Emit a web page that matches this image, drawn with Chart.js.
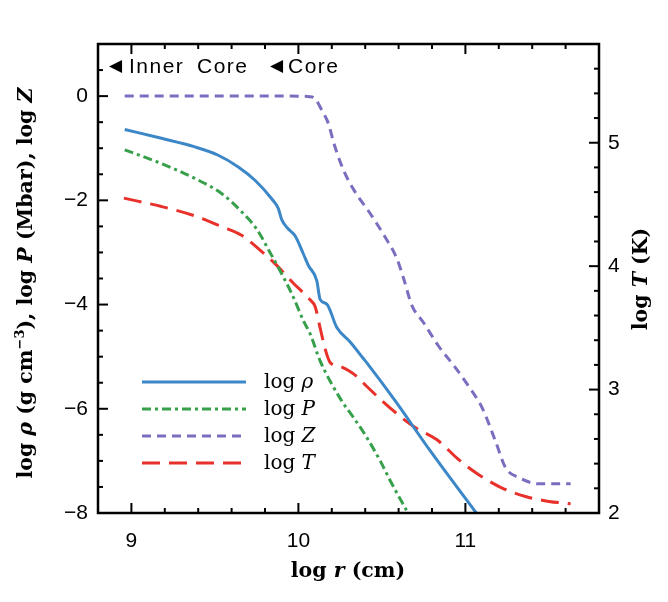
<!DOCTYPE html>
<html><head><meta charset="utf-8">
<script src="https://cdn.jsdelivr.net/npm/chart.js@4.4.1/dist/chart.umd.min.js"></script>
<style>html,body{margin:0;padding:0;background:#fff}canvas{display:block}</style>
</head><body>
<canvas id="c" width="668" height="602" style="width:668px;height:602px"></canvas>
<script>
// ---- data ----
const rhoX = [8.96, 9.18, 9.38, 9.52, 9.64, 9.74, 9.84, 9.88, 9.90, 9.94, 9.98, 10.03, 10.06, 10.11, 10.13, 10.17, 10.23, 10.31, 10.39, 10.41, 10.58, 10.79, 11.065];
const rhoY = [-0.64, -0.81, -0.975, -1.135, -1.36, -1.615, -1.97, -2.16, -2.37, -2.55, -2.68, -3.03, -3.25, -3.54, -3.90, -3.99, -4.44, -4.72, -5.04, -5.12, -5.85, -6.81, -8.0];

const pX = [8.96, 9.18, 9.38, 9.54, 9.66, 9.75, 9.83, 9.91, 9.97, 10.03, 10.07, 10.13, 10.25, 10.33, 10.39, 10.49, 10.55, 10.656];
const pY = [-1.03, -1.295, -1.58, -1.87, -2.22, -2.55, -3.0, -3.47, -3.86, -4.31, -4.56, -5.08, -5.8, -6.17, -6.45, -7.0, -7.38, -8.0];

const zX = [8.96, 9.95, 10.07, 10.10, 10.14, 10.18, 10.21, 10.24, 10.27, 10.31, 10.36, 10.41, 10.46, 10.52, 10.59, 10.63, 10.68, 10.75, 10.84, 10.94, 11.02, 11.10, 11.18, 11.24, 11.32, 11.44, 11.63];
const zY = [0, 0, -0.01, -0.05, -0.27, -0.53, -0.88, -1.17, -1.42, -1.68, -1.94, -2.16, -2.40, -2.71, -3.12, -3.50, -4.02, -4.35, -4.80, -5.21, -5.57, -5.98, -6.62, -7.13, -7.32, -7.44, -7.44];

const tX = [8.955, 9.18, 9.38, 9.54, 9.66, 9.77, 9.86, 9.97, 10.07, 10.10, 10.13, 10.16, 10.19, 10.25, 10.35, 10.41, 10.55, 10.69, 10.83, 10.96, 11.08, 11.22, 11.36, 11.50, 11.63];
const tY = [4.551, 4.483, 4.407, 4.321, 4.25, 4.13, 4.02, 3.862, 3.727, 3.673, 3.50, 3.33, 3.22, 3.187, 3.106, 3.025, 2.85, 2.70, 2.593, 2.432, 2.31, 2.202, 2.134, 2.094, 2.075];

const xTicks = [9, 10, 11];
const yTicks = [-8, -6, -4, -2, 0];
const tTicks = [2, 3, 4, 5];
const legendSymbols = ['\u03C1', 'P', 'Z', 'T'];

// ---- styles ----
const COLORS = ['#3b87c7', '#37a04b', '#7b6dbf', '#e8312b'];
const DASHES = [[], [9, 4, 3, 4], [9, 6], [18, 9]];
const pts = (xs, ys) => xs.map((x, i) => ({x: x, y: ys[i]}));
const fmt = v => v < 0 ? '\u2212' + Math.abs(v) : String(v);
const SANS = '"Liberation Sans", Arial, sans-serif';
const SERIF = '"DejaVu Serif", serif';

function rich(ctx, parts, x, y, angle, align) {
  ctx.save();
  ctx.translate(x, y);
  ctx.rotate(angle);
  ctx.textBaseline = 'alphabetic';
  ctx.textAlign = 'left';
  let total = 0;
  const ws = parts.map(p => { ctx.font = p.f; const w = ctx.measureText(p.t).width; total += w; return w; });
  let cx = align === 'center' ? -total / 2 : 0;
  parts.forEach((p, i) => { ctx.font = p.f; ctx.fillText(p.t, cx, p.dy || 0); cx += ws[i]; });
  ctx.restore();
}

const decor = {
  id: 'decor',
  afterDatasetsDraw(chart) {
    const {ctx, chartArea: a, scales} = chart;
    const xs = scales.x, ys = scales.y, ts = scales.y2;
    ctx.save();
    ctx.fillStyle = '#000';
    ctx.strokeStyle = '#000';
    ctx.setLineDash([]);
    ctx.lineWidth = 2;
    ctx.lineCap = 'butt';
    for (let k = Math.ceil(xs.min * 5 - 1e-6); k <= Math.floor(xs.max * 5 + 1e-6); k++) {
      const px = xs.getPixelForValue(k / 5);
      const L = (k % 5 === 0) ? 10 : 5;
      ctx.beginPath();
      ctx.moveTo(px, a.bottom); ctx.lineTo(px, a.bottom - L);
      ctx.moveTo(px, a.top); ctx.lineTo(px, a.top + L);
      ctx.stroke();
    }
    for (let k = Math.ceil(ys.min * 2); k <= Math.floor(ys.max * 2); k++) {
      const py = ys.getPixelForValue(k / 2);
      const L = (k % 4 === 0) ? 10 : 5;
      ctx.beginPath(); ctx.moveTo(a.left, py); ctx.lineTo(a.left + L, py); ctx.stroke();
    }
    for (let k = Math.ceil(ts.min * 5 - 1e-6); k <= Math.floor(ts.max * 5 + 1e-6); k++) {
      const py = ts.getPixelForValue(k / 5);
      const L = (k % 5 === 0) ? 10 : 5;
      ctx.beginPath(); ctx.moveTo(a.right, py); ctx.lineTo(a.right - L, py); ctx.stroke();
    }
    ctx.lineWidth = 2.5;
    ctx.strokeRect(a.left, a.top, a.right - a.left, a.bottom - a.top);

    // zone labels
    ctx.textBaseline = 'middle';
    ctx.textAlign = 'left';
    const zy = 67;
    ctx.font = '17px "DejaVu Sans", sans-serif';
    ctx.fillText('\u25C0', 109, zy);
    ctx.fillText('\u25C0', 270, zy);
    ctx.letterSpacing = '1.5px';
    ctx.font = '21px ' + SANS;
    ctx.fillText('Inner', 129, zy);
    ctx.fillText('Core', 197, zy);
    ctx.fillText('Core', 288, zy);
    ctx.letterSpacing = '0px';

    // legend
    const lx0 = 142, lx1 = 246, ltx = 264, ly = [382, 409, 436, 463];
    chart.data.datasets.forEach((ds, i) => {
      ctx.save();
      ctx.strokeStyle = ds.borderColor;
      ctx.lineWidth = ds.borderWidth;
      ctx.setLineDash(ds.borderDash || []);
      ctx.beginPath(); ctx.moveTo(lx0, ly[i]); ctx.lineTo(lx1, ly[i]); ctx.stroke();
      ctx.restore();
      rich(ctx, [
        {t: 'log ', f: '20px ' + SERIF},
        {t: legendSymbols[i], f: 'italic 20px ' + SERIF}
      ], ltx, ly[i] + 6, 0, 'left');
    });

    // axis titles
    const B = 'bold 20.5px ' + SERIF, BI = 'italic bold 20.5px ' + SERIF, SUP = 'bold 13px ' + SERIF;
    rich(ctx, [
      {t: 'log ', f: B}, {t: 'r', f: BI}, {t: ' (cm)', f: B}
    ], 348, 577, 0, 'center');
    rich(ctx, [
      {t: 'log ', f: B}, {t: '\u03C1', f: BI}, {t: ' (g cm', f: B}, {t: '\u22123', f: SUP, dy: -8},
      {t: '), log ', f: B}, {t: 'P', f: BI}, {t: ' (Mbar), log ', f: B}, {t: 'Z', f: BI}
    ], 32, 283, -Math.PI / 2, 'center');
    rich(ctx, [
      {t: 'log ', f: B}, {t: 'T', f: BI}, {t: ' (K)', f: B}
    ], 647, 279, -Math.PI / 2, 'center');
    ctx.restore();
  }
};

const tickFont = {family: SANS, size: 21};

new Chart(document.getElementById('c'), {
  type: 'line',
  data: {
    datasets: [
      {label: 'log \u03C1', data: pts(rhoX, rhoY), yAxisID: 'y'},
      {label: 'log P', data: pts(pX, pY), yAxisID: 'y'},
      {label: 'log Z', data: pts(zX, zY), yAxisID: 'y'},
      {label: 'log T', data: pts(tX, tY), yAxisID: 'y2'}
    ].map((d, i) => Object.assign(d, {
      borderColor: COLORS[i], borderWidth: 3, borderDash: DASHES[i],
      pointRadius: 0, fill: false, cubicInterpolationMode: 'monotone', borderCapStyle: 'butt'
    }))
  },
  options: {
    responsive: false,
    animation: false,
    devicePixelRatio: 1,
    layout: {padding: {left: 0, right: 0, top: 44, bottom: 0}},
    plugins: {legend: {display: false}, tooltip: {enabled: false}},
    scales: {
      x: {
        type: 'linear', min: 8.8, max: 11.8,
        afterBuildTicks: s => { s.ticks = xTicks.map(v => ({value: v})); },
        afterFit: s => { s.height = 89; },
        grid: {display: false, drawTicks: false},
        border: {display: false},
        ticks: {font: tickFont, color: '#000', padding: 16, maxRotation: 0, callback: fmt}
      },
      y: {
        type: 'linear', position: 'left', min: -8, max: 1,
        afterBuildTicks: s => { s.ticks = yTicks.map(v => ({value: v})); },
        afterFit: s => { s.width = 98; },
        grid: {display: false, drawTicks: false},
        border: {display: false},
        ticks: {font: tickFont, color: '#000', padding: 10, callback: fmt}
      },
      y2: {
        type: 'linear', position: 'right', min: 2, max: 5.8,
        afterBuildTicks: s => { s.ticks = tTicks.map(v => ({value: v})); },
        afterFit: s => { s.width = 69; },
        grid: {display: false, drawTicks: false},
        border: {display: false},
        ticks: {font: tickFont, color: '#000', padding: 9, callback: fmt}
      }
    }
  },
  plugins: [decor]
});
</script>
</body></html>
